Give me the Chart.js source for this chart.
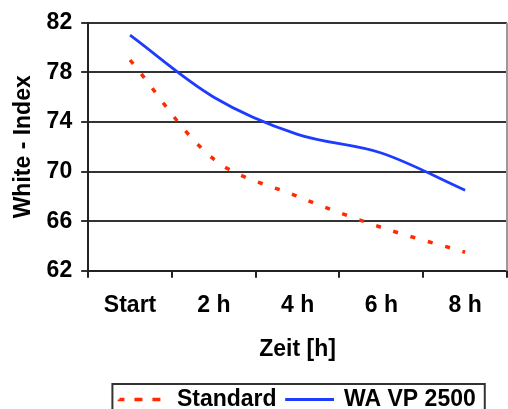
<!DOCTYPE html>
<html>
<head>
<meta charset="utf-8">
<script src="https://cdn.jsdelivr.net/npm/chart.js@4/dist/chart.umd.min.js"></script>
<style>
  html, body { margin: 0; padding: 0; background: #fff; overflow: hidden; }
  #wrap { width: 508px; height: 421px; position: relative; }
</style>
</head>
<body>
<div id="wrap"><canvas id="c"></canvas></div>
<script>
const categories = ['Start', '2 h', '4 h', '6 h', '8 h'];
const standardValues = [79, 71, 68, 65.5, 63.5];
const waValues = [81, 76, 73, 71.5, 68.5];
const yTicks = [62, 66, 70, 74, 78, 82];

const FONT = '"Liberation Sans", Arial, sans-serif';

const framePlugin = {
  id: 'frame',
  afterDraw(chart) {
    const ctx = chart.ctx;
    const a = chart.chartArea;
    ctx.save();
    ctx.strokeStyle = '#9a9a9a';
    ctx.lineWidth = 2;
    ctx.beginPath();
    ctx.moveTo(a.right, a.top);
    ctx.lineTo(a.right, a.bottom);
    ctx.stroke();
    const lg = chart.legend;
    if (lg && lg.legendHitBoxes && lg.legendHitBoxes.length) {
      const hb = lg.legendHitBoxes;
      let l = Infinity, r = -Infinity, t = Infinity;
      hb.forEach(h => { l = Math.min(l, h.left); r = Math.max(r, h.left + h.width); t = Math.min(t, h.top); });
      ctx.strokeStyle = '#333';
      ctx.lineWidth = 2;
      ctx.strokeRect(l - 7, t - 4, (r - l) + 16, 60);
    }
    ctx.restore();
  }
};

new Chart(document.getElementById('c'), {
  type: 'line',
  data: {
    labels: categories,
    datasets: [
      {
        label: 'Standard',
        data: standardValues,
        borderColor: '#ff2a00',
        backgroundColor: '#ff2a00',
        borderWidth: 3.5,
        borderDash: [5, 13],
        pointRadius: 0,
        tension: 0.33,
        fill: false
      },
      {
        label: 'WA VP 2500',
        data: waValues,
        borderColor: '#1e3cff',
        backgroundColor: '#1e3cff',
        borderWidth: 2.8,
        pointRadius: 0,
        tension: 0.33,
        fill: false
      }
    ]
  },
  options: {
    responsive: true,
    maintainAspectRatio: false,
    animation: false,
    layout: { padding: { left: 10, right: 1, top: 8, bottom: 0 } },
    plugins: {
      legend: {
        position: 'bottom',
        fullSize: false,
        labels: {
          usePointStyle: false,
          boxWidth: 46,
          boxHeight: 0.01,
          color: '#000',
          padding: 10,
          font: { family: FONT, size: 23, weight: 'bold' }
        }
      },
      tooltip: { enabled: false }
    },
    scales: {
      x: {
        type: 'category',
        offset: true,
        grid: {
          offset: true,
          drawOnChartArea: false,
          drawTicks: true,
          tickLength: 7,
          color: '#222',
          lineWidth: 2
        },
        border: { color: '#222', width: 2 },
        ticks: {
          color: '#000',
          padding: 14,
          font: { family: FONT, size: 23, weight: 'bold' }
        },
        title: {
          display: true,
          text: 'Zeit [h]',
          color: '#000',
          padding: { top: 2, bottom: 15 },
          font: { family: FONT, size: 23, weight: 'bold' }
        }
      },
      y: {
        min: 62,
        max: 82,
        afterBuildTicks(scale) { scale.ticks = yTicks.map(v => ({ value: v })); },
        grid: {
          color: '#333',
          lineWidth: 2,
          tickLength: 7,
          drawTicks: true
        },
        border: { color: '#222', width: 2 },
        ticks: {
          color: '#000',
          padding: 9,
          font: { family: FONT, size: 23, weight: 'bold' }
        },
        title: {
          display: true,
          text: 'White - Index',
          color: '#000',
          padding: { top: 0, bottom: 0 },
          font: { family: FONT, size: 23, weight: 'bold' }
        }
      }
    }
  },
  plugins: [framePlugin]
});
</script>
</body>
</html>
